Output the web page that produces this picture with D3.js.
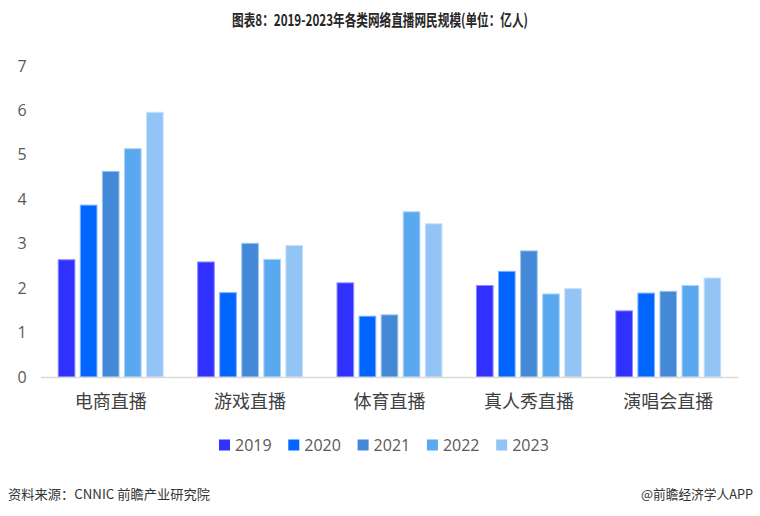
<!DOCTYPE html>
<html>
<head>
<meta charset="utf-8">
<script src="https://cdn.jsdelivr.net/npm/d3@7/dist/d3.min.js"></script>
<style>
  body { margin: 0; background: #fff; }
  svg { display: block; }
</style>
</head>
<body>
<svg id="chart"></svg>
<script>
// data (unit: 亿人)
const categories = ['电商直播', '游戏直播', '体育直播', '真人秀直播', '演唱会直播'];
const years = ['2019', '2020', '2021', '2022', '2023'];
const values2019 = [2.65, 2.60, 2.13, 2.07, 1.50];
const values2020 = [3.88, 1.91, 1.38, 2.39, 1.90];
const values2021 = [4.64, 3.02, 1.41, 2.85, 1.94];
const values2022 = [5.15, 2.66, 3.73, 1.88, 2.07];
const values2023 = [5.97, 2.97, 3.46, 2.00, 2.24];
const yTicks = [0, 1, 2, 3, 4, 5, 6, 7];

const seriesValues = [values2019, values2020, values2021, values2022, values2023];
const fillColors = ['#3030ff', '#0066ff', '#4489d7', '#5aa8f0', '#92c4f5'];
const strokeColors = ['#8c8cff', '#7fb2ff', '#a1c4eb', '#acd3f7', '#c8e1fa'];

const width = 760, height = 516;
const margin = { top: 66, right: 22, bottom: 139, left: 41 };
const plotW = width - margin.left - margin.right;
const plotH = height - margin.top - margin.bottom;

const svg = d3.select('#chart')
  .attr('width', width)
  .attr('height', height);

// title
svg.append('text')
  .attr('x', 380)
  .attr('y', 26)
  .attr('text-anchor', 'middle')
  .attr('textLength', 296)
  .attr('lengthAdjust', 'spacingAndGlyphs')
  .style('font', 'bold 16px "Noto Sans CJK SC", sans-serif')
  .style('fill', '#262626')
  .text('图表8：2019-2023年各类网络直播网民规模(单位：亿人)');

const g = svg.append('g')
  .attr('transform', `translate(${ margin.left },${ margin.top })`);

const x0 = d3.scaleBand()
  .domain(categories)
  .range([0, plotW])
  .paddingInner(0.24)
  .paddingOuter(0.12);

const x1 = d3.scaleBand()
  .domain(years)
  .range([0, x0.bandwidth()])
  .paddingInner(0.2);

const y = d3.scaleLinear()
  .domain([0, 7])
  .range([plotH, 0]);

// y tick labels, no axis line
g.append('g')
  .selectAll('text')
  .data(yTicks)
  .enter()
  .append('text')
  .attr('x', -19)
  .attr('y', d => y(d))
  .attr('dy', '0.35em')
  .attr('text-anchor', 'middle')
  .style('font', '16px "Open Sans", "Noto Sans", sans-serif')
  .style('fill', '#595959')
  .text(d => d);

// bars
const groups = g.append('g')
  .selectAll('g')
  .data(categories)
  .enter()
  .append('g')
  .attr('transform', d => `translate(${ x0(d) },0)`);

groups.selectAll('rect')
  .data((d, i) => years.map((yr, j) => ({ year: yr, idx: j, value: seriesValues[j][i] })))
  .enter()
  .append('rect')
  .attr('x', d => x1(d.year) + 0.5)
  .attr('y', d => y(d.value) + 0.5)
  .attr('width', x1.bandwidth() - 1)
  .attr('height', d => y(0) - y(d.value) - 0.5)
  .attr('fill', d => fillColors[d.idx])
  .attr('stroke', d => strokeColors[d.idx])
  .attr('stroke-width', 1);

// x axis baseline
g.append('line')
  .attr('x1', 0)
  .attr('x2', plotW)
  .attr('y1', y(0) + 0.5)
  .attr('y2', y(0) + 0.5)
  .attr('stroke', '#d9d9d9')
  .attr('stroke-width', 1.5);

// category labels
g.append('g')
  .selectAll('text')
  .data(categories)
  .enter()
  .append('text')
  .attr('x', d => x0(d) + x0.bandwidth() / 2)
  .attr('y', plotH + 25)
  .attr('dy', '0.35em')
  .attr('text-anchor', 'middle')
  .style('font', '18px "Noto Sans CJK SC", sans-serif')
  .style('fill', '#404040')
  .text(d => d);

// legend
const legend = svg.append('g')
  .attr('transform', 'translate(219, 445)');

const legendItem = legend.selectAll('g')
  .data(years)
  .enter()
  .append('g')
  .attr('transform', (d, i) => `translate(${ i * 69.3 }, 0)`);

legendItem.append('rect')
  .attr('x', 0)
  .attr('y', -5.5)
  .attr('width', 11)
  .attr('height', 11)
  .attr('fill', (d, i) => fillColors[i]);

legendItem.append('text')
  .attr('x', 16)
  .attr('y', 0)
  .attr('dy', '0.35em')
  .style('font', '16px "Open Sans", "Noto Sans", sans-serif')
  .style('fill', '#595959')
  .text(d => d);

// footer
svg.append('text')
  .attr('x', 8)
  .attr('y', 499)
  .attr('textLength', 202)
  .attr('lengthAdjust', 'spacingAndGlyphs')
  .style('font', '13px "Noto Sans CJK SC", sans-serif')
  .style('fill', '#333')
  .text('资料来源：CNNIC 前瞻产业研究院');

svg.append('text')
  .attr('x', 753)
  .attr('y', 499)
  .attr('text-anchor', 'end')
  .attr('textLength', 112)
  .attr('lengthAdjust', 'spacingAndGlyphs')
  .style('font', '13px "Noto Sans CJK SC", sans-serif')
  .style('fill', '#333')
  .text('@前瞻经济学人APP');
</script>
</body>
</html>
